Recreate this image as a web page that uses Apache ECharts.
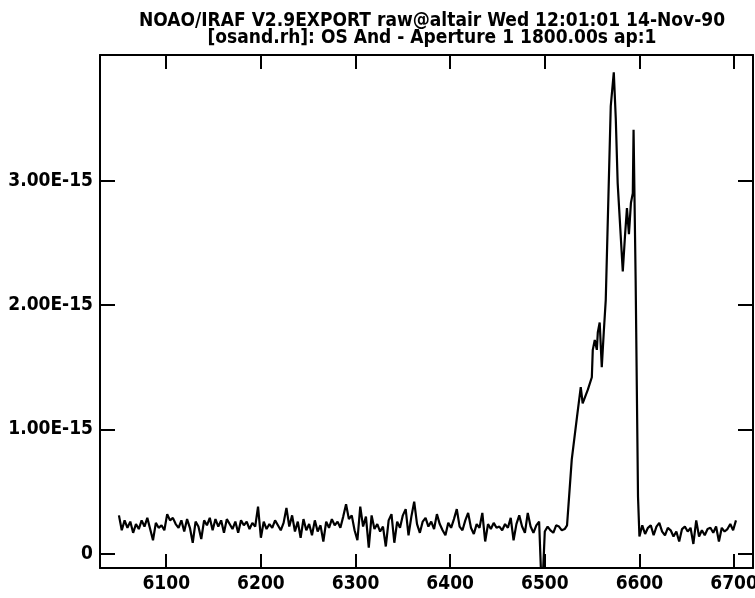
<!DOCTYPE html>
<html>
<head>
<meta charset="utf-8">
<script src="https://cdn.jsdelivr.net/npm/echarts@6/dist/echarts.min.js"></script>
<style>
html,body{margin:0;padding:0;background:#fff;}
#chart{width:755px;height:598px;}
</style>
</head>
<body>
<div id="chart"></div>
<script>
// Title lines
var titleLines = [
  'NOAO/IRAF V2.9EXPORT raw@altair Wed 12:01:01 14-Nov-90',
  '[osand.rh]: OS And - Aperture 1 1800.00s ap:1'
];
// Axis ticks
var xTicks = [6100, 6200, 6300, 6400, 6500, 6600, 6700];
var xTickLabels = ['6100', '6200', '6300', '6400', '6500', '6600', '6700'];
var yTicks = [0, 1, 2, 3];            // in units of 1E-15
var yTickLabels = ['0', '1.00E-15', '2.00E-15', '3.00E-15'];

// Blue continuum: wavelengths 6050 .. 6521, step 3 A (flux in 1E-15)
var leftStart = 6050, leftStep = 3;
var leftFlux = [
  0.31,0.19,0.27,0.21,0.26,0.17,0.24,0.20,0.27,0.22,
  0.29,0.20,0.11,0.25,0.21,0.23,0.19,0.32,0.27,0.29,
  0.24,0.21,0.27,0.18,0.28,0.21,0.09,0.26,0.22,0.12,
  0.27,0.23,0.29,0.19,0.28,0.22,0.27,0.17,0.28,0.24,
  0.20,0.26,0.17,0.27,0.23,0.26,0.20,0.25,0.22,0.38,
  0.13,0.26,0.20,0.24,0.21,0.27,0.23,0.19,0.25,0.37,
  0.22,0.31,0.18,0.26,0.13,0.28,0.19,0.24,0.15,0.27,
  0.18,0.23,0.10,0.26,0.21,0.28,0.23,0.26,0.21,0.30,
  0.40,0.28,0.31,0.19,0.11,0.38,0.22,0.30,0.05,0.31,
  0.20,0.24,0.18,0.22,0.06,0.27,0.32,0.09,0.26,0.21,
  0.31,0.36,0.15,0.30,0.42,0.24,0.17,0.26,0.29,0.22,
  0.26,0.20,0.32,0.24,0.19,0.15,0.25,0.21,0.28,0.36,
  0.22,0.19,0.27,0.33,0.21,0.16,0.24,0.21,0.33,0.10,
  0.24,0.20,0.25,0.21,0.22,0.19,0.24,0.21,0.29,0.11,
  0.24,0.31,0.22,0.17,0.33,0.22,0.17,0.23,0.26,-0.35,
  0.18,0.22,0.19,0.17,0.23,0.22,0.19,0.20
];
// Emission line region (irregular sampling)
var lineWave = [6523.5,6528.5,6534,6538,6540,6545.5,6549.7,6550.7,6552.8,6555,
  6556,6558,6560.2,6562.3,6564.4,6569.7,6572.9,6575,6577,6582.4,
  6584.7,6586.8,6588.9,6591,6593,6593.8,6596,6598.5,6600];
var lineFlux = [0.23,0.76,1.10,1.34,1.21,1.32,1.42,1.64,1.72,1.64,
  1.78,1.86,1.50,1.78,2.04,3.60,3.87,3.50,2.98,2.27,
  2.55,2.78,2.57,2.82,2.90,3.41,2.20,0.46,0.14];
// Red continuum: wavelengths 6603 .. 6702, step 3 A
var rightStart = 6603, rightStep = 3;
var rightFlux = [
  0.23,0.16,0.21,0.23,0.15,0.22,0.25,0.18,0.15,0.21,
  0.19,0.14,0.18,0.10,0.20,0.22,0.18,0.21,0.08,0.27,
  0.14,0.19,0.15,0.20,0.21,0.17,0.22,0.10,0.21,0.18,
  0.20,0.24,0.19,0.27
];

var data = [];
leftFlux.forEach(function(v, i){ data.push([leftStart + i*leftStep, v]); });
lineWave.forEach(function(w, i){ data.push([w, lineFlux[i]]); });
rightFlux.forEach(function(v, i){ data.push([rightStart + i*rightStep, v]); });

var FONT = '"DejaVu Sans Condensed", "DejaVu Sans", sans-serif';
var xMin = 6030, xMax = 6720, yMin = -0.113, yMax = 4.01;

function xAxisDef(pos, showLabel){
  return {
    type:'value', position:pos, min:xMin, max:xMax,
    axisLine:{show:true, onZero:false, lineStyle:{color:'#000', width:2}},
    axisTick:{show:true, inside:true, length:14, customValues:xTicks, lineStyle:{color:'#000', width:2}},
    axisLabel:{show:showLabel, customValues:xTicks, margin:7, color:'#000',
      fontFamily:FONT, fontWeight:'bold', fontSize:19,
      formatter:function(v){ var k = xTicks.indexOf(Math.round(v)); return k>=0 ? xTickLabels[k] : ''; }},
    splitLine:{show:false}
  };
}
function yAxisDef(pos, showLabel){
  return {
    type:'value', position:pos, min:yMin, max:yMax,
    axisLine:{show:true, onZero:false, lineStyle:{color:'#000', width:2}},
    axisTick:{show:true, inside:true, length:15, customValues:yTicks, lineStyle:{color:'#000', width:2}},
    axisLabel:{show:showLabel, customValues:yTicks, margin:7, color:'#000',
      fontFamily:FONT, fontWeight:'bold', fontSize:19,
      formatter:function(v){ var k = yTicks.indexOf(Math.round(v)); return k>=0 ? yTickLabels[k] : ''; }},
    splitLine:{show:false}
  };
}

var chart = echarts.init(document.getElementById('chart'), null, {renderer:'canvas'});
chart.setOption({
  animation:false,
  backgroundColor:'#fff',
  title:{
    text: titleLines.join('\n'),
    left:427, top:8, textAlign:'center',
    textStyle:{fontFamily:FONT, fontWeight:'bold', fontSize:19, lineHeight:17, color:'#000'}
  },
  grid:{left:100, right:2, top:55, bottom:30, containLabel:false, outerBoundsMode:'none'},
  xAxis:[xAxisDef('bottom', true), xAxisDef('top', false)],
  yAxis:[yAxisDef('left', true), yAxisDef('right', false)],
  series:[{
    type:'line', data:data, xAxisIndex:0, yAxisIndex:0,
    showSymbol:false, symbol:'none', clip:true,
    lineStyle:{color:'#000', width:2.2}
  }]
});
</script>
</body>
</html>
